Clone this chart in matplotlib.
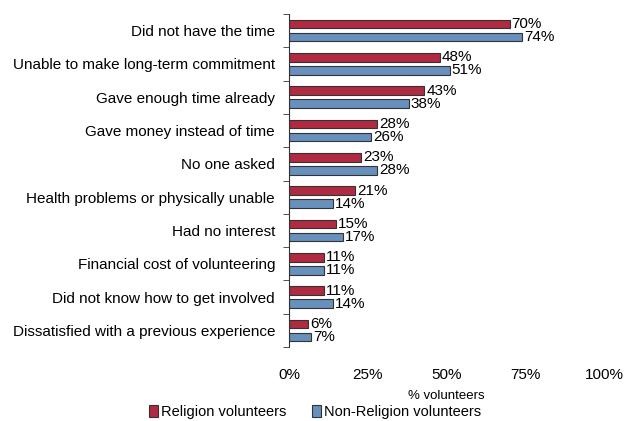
import matplotlib.pyplot as plt
import numpy as np

plt.rcParams.update({
	'font.family': ['Liberation Sans', 'DejaVu Sans'],
	'font.size': 11,
	'text.color': '#000000',
	'xtick.color': '#000000',
	'ytick.color': '#000000',
	'axes.labelcolor': '#000000',
})

reasons = [
	"Did not have the time",
	"Unable to make long-term commitment",
	"Gave enough time already",
	"Gave money instead of time",
	"No one asked",
	"Health problems or physically unable",
	"Had no interest",
	"Financial cost of volunteering",
	"Did not know how to get involved",
	"Dissatisfied with a previous experience",
]
religion = [70, 48, 43, 28, 23, 21, 15, 11, 11, 6]
non_religion = [74, 51, 38, 26, 28, 14, 17, 11, 14, 7]
x_ticks = [0, 25, 50, 75, 100]

red = '#B02A41'
blue = '#6790BC'

fig = plt.figure(figsize=(6.3, 4.21), dpi=100)
ax = fig.add_axes([289/630, 1-347/421, 315/630, 333/421])

y = np.arange(len(reasons))
off = 0.195
h = 0.26
b1 = ax.barh(y - off, religion, height=h, color=red, edgecolor='#333333', lw=0.8, label='Religion volunteers')
b2 = ax.barh(y + off, non_religion, height=h, color=blue, edgecolor='#333333', lw=0.8, label='Non-Religion volunteers')

for yy, v in zip(y - off, religion):
	ax.text(v + 0.6, yy, f"{v}%", va='center', ha='left', fontsize=11)
for yy, v in zip(y + off, non_religion):
	ax.text(v + 0.6, yy, f"{v}%", va='center', ha='left', fontsize=11)

ax.set_ylim(len(reasons) - 0.5, -0.5)
ax.set_xlim(0, 100)
ax.set_yticks(y)
ax.set_yticklabels(reasons, fontsize=11)
ax.tick_params(axis='y', which='major', length=0, pad=10)
ax.set_yticks(np.arange(-0.5, len(reasons)), minor=True)
ax.tick_params(axis='y', which='minor', length=4, direction='out', color='#333333')

ax.set_xticks(x_ticks)
ax.set_xticklabels([f"{t}%" for t in x_ticks], fontsize=11)
ax.tick_params(axis='x', length=0, pad=15)
ax.set_xlabel("% volunteers", fontsize=9.5, labelpad=6)

for s in ['top', 'right', 'bottom']:
	ax.spines[s].set_visible(False)
ax.spines['left'].set_color('#333333')

fig.legend(handles=[b1, b2], loc='center', bbox_to_anchor=(0.5, 1-412/421), ncol=2,
	frameon=False, fontsize=10.5, handlelength=0.6, handleheight=0.9, handletextpad=0.2,
	columnspacing=1.8, borderpad=0)

plt.savefig('out.png', dpi=100)
